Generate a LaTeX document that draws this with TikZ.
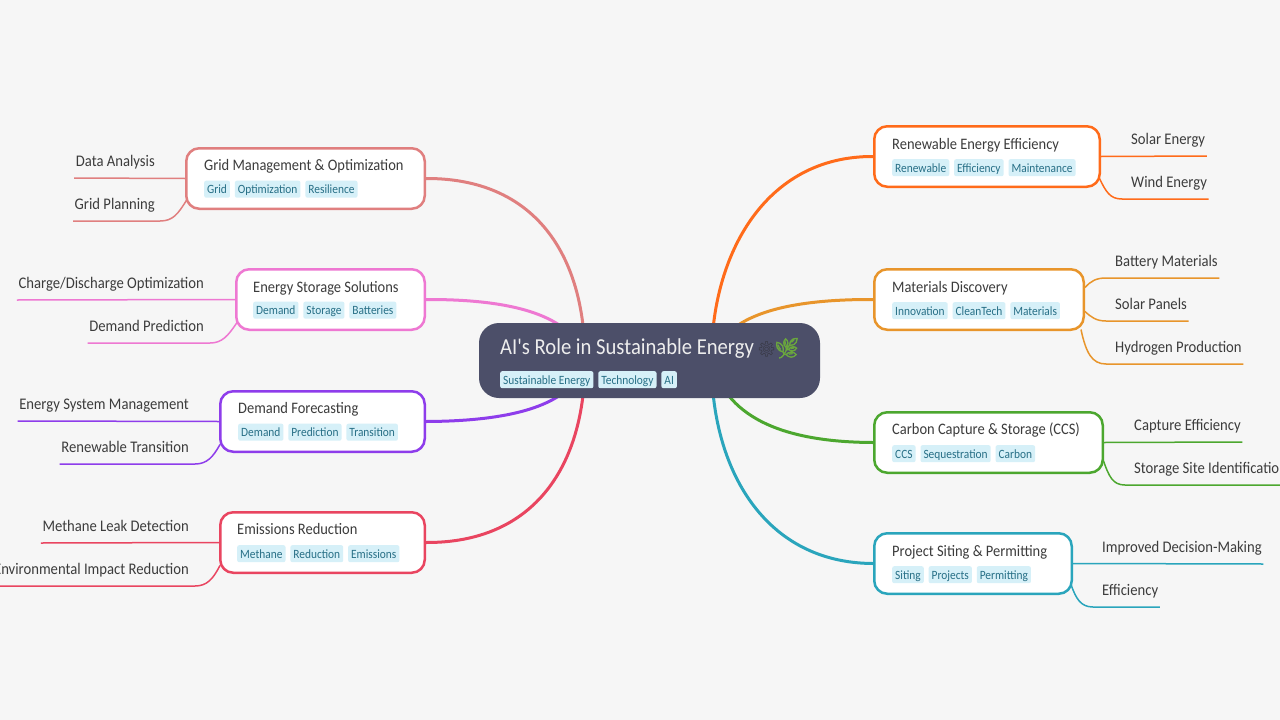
\documentclass[tikz,border=0pt]{standalone}
\usepackage{fontspec}
\setmainfont[FakeStretch=0.905]{Carlito}
\newfontfamily\rootfont[FakeStretch=0.905]{Carlito}
\newfontfamily\emojifont{Noto Emoji}
\newfontfamily\herbfont[FakeBold=2.5]{Noto Emoji}
\usetikzlibrary{calc,positioning,backgrounds}
\definecolor{pagebg}{HTML}{F6F6F6}
\definecolor{rootbg}{HTML}{4C4F69}
\definecolor{tagbg}{HTML}{D6F0F8}
\definecolor{tagtxt}{HTML}{276F86}
\definecolor{txt}{HTML}{3C3C3C}
\definecolor{cgrid}{HTML}{E07F7F}
\definecolor{cstore}{HTML}{EE78D2}
\definecolor{cdemand}{HTML}{8E3DEB}
\definecolor{cemis}{HTML}{E94560}
\definecolor{crenew}{HTML}{FF6B1A}
\definecolor{cmater}{HTML}{E8952B}
\definecolor{ccarbon}{HTML}{4CA72F}
\definecolor{cproj}{HTML}{2AA5BC}
\definecolor{cherb}{HTML}{6AA63E}
\definecolor{cgear}{HTML}{35353F}
\tikzset{
  topic/.style={draw=#1,fill=white,line width=2.5pt,rounded corners=13pt,minimum height=60.5pt,inner sep=0pt},
  title/.style={anchor=base west,inner sep=0pt,text=txt,font=\fontsize{16}{18}\selectfont},
  tag/.style={fill=tagbg,text=tagtxt,rounded corners=2pt,inner sep=0pt,inner xsep=3pt,minimum height=17pt,text height=10pt,text depth=1pt,font=\fontsize{12.6}{14}\selectfont},
  leaf/.style={inner sep=0pt,inner xsep=1.5pt,text=txt,minimum height=30pt,text height=11pt,text depth=3pt,font=\fontsize{16.2}{18}\selectfont},
  trunk/.style={draw=#1,line width=3pt},
  twig/.style={draw=#1,line width=1.5pt}
}
\begin{document}
\begin{tikzpicture}[x=1pt,y=-1pt,node distance=4.5pt]
  \useasboundingbox (0,0) rectangle (1280,720);
  % centre
  \node[fill=rootbg,rounded corners=20pt,minimum width=341pt,minimum height=75pt,inner sep=0pt] (root) at (649.5,360.5) {};
  \node[title,text=white!93!black,font=\rootfont\fontsize{22.8}{24}\selectfont] (rootname) at (500,354) {AI's Role in Sustainable Energy};
  \node[anchor=base west,inner sep=0pt,text=cgear,font=\emojifont\fontsize{15}{20}\selectfont] (gear) at (757,354) {⚙};
  \node[anchor=base west,inner sep=0pt,text=cherb,font=\herbfont\fontsize{20}{24}\selectfont] (herb) at (774,355) {🌿};
  \node[tag,anchor=north west] (r1) at (500,371) {Sustainable Energy};
  \node[tag,right=of r1] (r2) {Technology};
  \node[tag,right=of r2] (r3) {AI};
  \coordinate (portl) at ($(root.center)+(-64.5,0)$);
  \coordinate (portr) at ($(root.center)+(62,0)$);

  % left branches
  \node[topic=cgrid,minimum width=238.5pt] (grid) at (305.5,178.5) {};
  \node[title] (gridname) at (204,170.5) {Grid Management \& Optimization};
  \node[tag,anchor=north west] (g1) at (204,180.5) {Grid};
  \node[tag,right=of g1] (g2) {Optimization};
  \node[tag,right=of g2] (g3) {Resilience};

  \node[topic=cstore,minimum width=188.5pt] (store) at (330.5,299.5) {};
  \node[title] (storename) at (253,292) {Energy Storage Solutions};
  \node[tag,anchor=north west] (s1) at (253,301.5) {Demand};
  \node[tag,right=of s1] (s2) {Storage};
  \node[tag,right=of s2] (s3) {Batteries};

  \node[topic=cdemand,minimum width=204.5pt] (demand) at (322.5,421.5) {};
  \node[title] (demandname) at (238,413) {Demand Forecasting};
  \node[tag,anchor=north west] (d1) at (238,423.5) {Demand};
  \node[tag,right=of d1] (d2) {Prediction};
  \node[tag,right=of d2] (d3) {Transition};

  \node[topic=cemis,minimum width=204.5pt] (emis) at (322.5,542.5) {};
  \node[title] (emisname) at (237,534) {Emissions Reduction};
  \node[tag,anchor=north west] (e1) at (237,545) {Methane};
  \node[tag,right=of e1] (e2) {Reduction};
  \node[tag,right=of e2] (e3) {Emissions};

  % right branches
  \node[topic=crenew,minimum width=225.5pt] (renew) at (987,156.5) {};
  \node[title] (renewname) at (892,149) {Renewable Energy Efficiency};
  \node[tag,anchor=north west] (n1) at (892,159) {Renewable};
  \node[tag,right=of n1] (n2) {Efficiency};
  \node[tag,right=of n2] (n3) {Maintenance};

  \node[topic=cmater,minimum width=209.5pt] (mater) at (979,299.5) {};
  \node[title] (matername) at (892,292) {Materials Discovery};
  \node[tag,anchor=north west] (m1) at (892,302) {Innovation};
  \node[tag,right=of m1] (m2) {CleanTech};
  \node[tag,right=of m2] (m3) {Materials};

  \node[topic=ccarbon,minimum width=228.5pt] (carbon) at (988.5,442.5) {};
  \node[title] (carbonname) at (892,434.5) {Carbon Capture \& Storage (CCS)};
  \node[tag,anchor=north west] (c1) at (892,445) {CCS};
  \node[tag,right=of c1] (c2) {Sequestration};
  \node[tag,right=of c2] (c3) {Carbon};

  \node[topic=cproj,minimum width=197.5pt] (proj) at (973,563.5) {};
  \node[title] (projname) at (892,556) {Project Siting \& Permitting};
  \node[tag,anchor=north west] (p1) at (892,566) {Siting};
  \node[tag,right=of p1] (p2) {Projects};
  \node[tag,right=of p2] (p3) {Permitting};

  % leaves, bottom edge sits on the twig
  \node[leaf,anchor=south east] (l1) at (156.5,178) {Data Analysis};
  \node[leaf,anchor=south east] (l2) at (156.5,221) {Grid Planning};
  \node[leaf,anchor=south east] (l3) at (205.5,300) {Charge/Discharge Optimization};
  \node[leaf,anchor=south east] (l4) at (205.5,343) {Demand Prediction};
  \node[leaf,anchor=south east] (l5) at (190.5,421) {Energy System Management};
  \node[leaf,anchor=south east] (l6) at (190.5,464) {Renewable Transition};
  \node[leaf,anchor=south east] (l7) at (190.5,543) {Methane Leak Detection};
  \node[leaf,anchor=south east] (l8) at (190.5,586) {Environmental Impact Reduction};
  \node[leaf,anchor=south west] (r1a) at (1129.5,156) {Solar Energy};
  \node[leaf,anchor=south west] (r1b) at (1129.5,199) {Wind Energy};
  \node[leaf,anchor=south west] (r2a) at (1113.5,278) {Battery Materials};
  \node[leaf,anchor=south west] (r2b) at (1113.5,321) {Solar Panels};
  \node[leaf,anchor=south west] (r2c) at (1113.5,364) {Hydrogen Production};
  \node[leaf,anchor=south west] (r3a) at (1132.5,442) {Capture Efficiency};
  \node[leaf,anchor=south west] (r3b) at (1132.5,485) {Storage Site Identification};
  \node[leaf,anchor=south west] (r4a) at (1100.5,564) {Improved Decision-Making};
  \node[leaf,anchor=south west] (r4b) at (1100.5,607) {Efficiency};

  \begin{pgfonlayer}{background}
    \fill[pagebg] (0,0) rectangle (1280,720);
    \draw[trunk=cgrid] (portl) .. controls (585,255) and (535,178) .. (grid.east);
    \draw[trunk=cstore] (portl) .. controls (578,330) and (545,299) .. (store.east);
    \draw[trunk=cdemand] (portl) .. controls (578,391) and (545,421) .. (demand.east);
    \draw[trunk=cemis] (portl) .. controls (585,465) and (535,543) .. (emis.east);
    \draw[trunk=crenew] (portr) .. controls (711,255) and (765,156) .. (renew.west);
    \draw[trunk=cmater] (portr) .. controls (720,330) and (752,299) .. (mater.west);
    \draw[trunk=ccarbon] (portr) .. controls (720,392) and (745,442) .. (carbon.west);
    \draw[trunk=cproj] (portr) .. controls (711,470) and (765,563) .. (proj.west);

    \draw[twig=cgrid] (grid.west) -- (l1.south west);
    \draw[twig=cgrid] ($(grid.west)+(2,21)$) .. controls (178,214) and (173,221) .. (160,221) -- (l2.south west);
    \draw[twig=cstore] (store.west) -- (l3.south west);
    \draw[twig=cstore] ($(store.west)+(2,23)$) .. controls (228,336) and (222,343) .. (210,343) -- (l4.south west);
    \draw[twig=cdemand] (demand.west) -- (l5.south west);
    \draw[twig=cdemand] ($(demand.west)+(1,23)$) .. controls (213,457) and (207,464) .. (195,464) -- (l6.south west);
    \draw[twig=cemis] (emis.west) -- (l7.south west);
    \draw[twig=cemis] ($(emis.west)+(1,23)$) .. controls (213,579) and (207,586) .. (195,586) -- (l8.south west);

    \draw[twig=crenew] (renew.east) -- (r1a.south east);
    \draw[twig=crenew] ($(renew.east)+(-2,21)$) .. controls (1106,192) and (1110,199) .. (1122,199) -- (r1b.south east);
    \draw[twig=cmater] ($(mater.east)+(0,-12)$) .. controls (1091,281) and (1096,278) .. (1106,278) -- (r2a.south east);
    \draw[twig=cmater] ($(mater.east)+(0,12)$) .. controls (1091,317) and (1096,321) .. (1106,321) -- (r2b.south east);
    \draw[twig=cmater] ($(mater.east)+(-4,30)$) .. controls (1086,353) and (1092,364) .. (1106,364) -- (r2c.south east);
    \draw[twig=ccarbon] (carbon.east) -- (r3a.south east);
    \draw[twig=ccarbon] ($(carbon.east)+(-1,17)$) .. controls (1109,477) and (1113,485) .. (1125,485) -- (r3b.south east);
    \draw[twig=cproj] (proj.east) -- (r4a.south east);
    \draw[twig=cproj] ($(proj.east)+(-2,21)$) .. controls (1076,599) and (1081,607) .. (1093,607) -- (r4b.south east);
  \end{pgfonlayer}
\end{tikzpicture}
\end{document}
